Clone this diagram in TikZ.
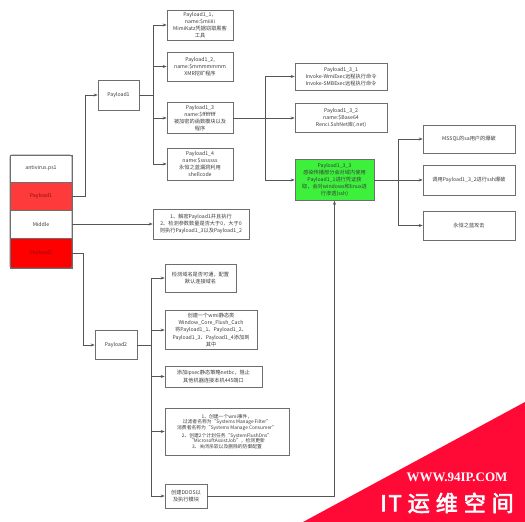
\documentclass[tikz,border=0pt]{standalone}
\usepackage{fontspec}
\setmainfont{Noto Sans CJK SC}
\newfontfamily\wmfont[FakeBold=3]{Noto Sans CJK SC}
\newfontfamily\wmserif{Liberation Serif}
\usetikzlibrary{arrows.meta, positioning}
\definecolor{linegray}{HTML}{555555}
\definecolor{boxgray}{HTML}{6E6E6E}
\definecolor{txtgray}{HTML}{3C3C3C}
\definecolor{lightred}{HTML}{FF3A3A}
\definecolor{brightred}{HTML}{FF0000}
\definecolor{darkred}{HTML}{8A1010}
\definecolor{infgreen}{HTML}{3CF03C}
\definecolor{wmred}{HTML}{FF0A37}

\begin{document}
\begin{tikzpicture}[x=1pt, y=-1pt,
    box/.style={draw=boxgray, fill=white, line width=0.6pt, align=center, inner sep=1pt, text=txtgray, font=\fontsize{5.2}{7.2}\selectfont},
    arr/.style={-{Stealth[length=4pt, width=3pt]}, draw=linegray, line width=0.6pt},
    lnk/.style={draw=linegray, line width=0.6pt}]
    \useasboundingbox (0,0) rectangle (525,522);

    % script and its parts
    \node[box, minimum width=62pt, minimum height=27pt, outer sep=0pt] (ps1) at (41,168.5) {antivirus.ps1};
    \node[box, fill=lightred, text=darkred, minimum width=62pt, minimum height=28pt, outer sep=0pt, below=0pt of ps1] (pl1row) {Payload1};
    \node[box, minimum width=62pt, minimum height=28pt, outer sep=0pt, below=0pt of pl1row] (midrow) {Middle};
    \node[box, fill=brightred, text=darkred, minimum width=62pt, minimum height=30pt, outer sep=0pt, below=0pt of midrow] (pl0row) {Payload2};
    \draw[boxgray, line width=0.8pt, rounded corners=2pt] (ps1.north west) rectangle (pl0row.south east);

    % Payload1 branch
    \node[box, minimum width=41pt, minimum height=30pt] (payload1) at (118.5,95) {Payload1};
    \node[box, minimum width=66pt, minimum height=30pt] (p11) at (200,25) {Payload1\_1，\\name:\$miiiii\\MimiKatz凭据窃取黑客\\工具};
    \node[box, minimum width=66pt, minimum height=29pt] (p12) at (200,66.5) {Payload1\_2,\\name:\$mmmmmmm\\XMR挖矿程序};
    \node[box, minimum width=66pt, minimum height=31pt] (p13) at (200,118) {Payload1\_3\\name:\$ffffffff\\被加密的函数模块以及\\程序};
    \node[box, minimum width=66pt, minimum height=32pt] (p14) at (200,164) {Payload1\_4\\name:\$sssssss\\永恒之蓝漏洞利用\\shellcode};

    \node[box, minimum width=92pt, minimum height=27pt] (p131) at (341,76.5) {Payload1\_3\_1\\Invoke-WmiExec远程执行命令\\Invoke-SMBExec远程执行命令};
    \node[box, minimum width=92pt, minimum height=29pt] (p132) at (341,118) {Payload1\_3\_2\\name:\$Base64\\Renci.SshNet库(.net)};
    \node[box, fill=infgreen, minimum width=79pt, minimum height=41pt] (p133) at (334.5,180) {Payload1\_3\_3\\感染传播部分会对域内使用\\Payload1\_1进行凭证获\\取，会对windows和linux进\\行渗透(ssh)};

    \node[box, minimum width=92pt, minimum height=28pt] (r1) at (469,139) {MSSQL的sa用户的爆破};
    \node[box, minimum width=92pt, minimum height=30pt] (r2) at (469,180) {调用Payload1\_3\_2进行ssh爆破};
    \node[box, minimum width=92pt, minimum height=29pt] (r3) at (469,225.5) {永恒之蓝攻击};

    % Middle
    \node[box, minimum width=96pt, minimum height=30pt] (midbox) at (201,224) {1、解密Payload1并且执行\\2、检测参数数量是否大于0，大于0\\则执行Payload1\_3以及Payload1\_2};

    % Payload2 branch
    \node[box, minimum width=42pt, minimum height=29pt] (payload2) at (116,345) {Payload2};
    \node[box, minimum width=71pt, minimum height=28pt] (q1) at (200.5,278) {检测域名是否可通，配置\\默认连接域名};
    \node[box, minimum width=92pt, minimum height=39pt] (q2) at (211,330) {创建一个wmi静态类\\Window\_Core\_Flush\_Cach\\将Payload1\_1、Payload1\_2、\\Payload1\_3、Payload1\_4添加到\\其中};
    \node[box, minimum width=97pt, minimum height=21pt] (q3) at (213.5,376.5) {添加ipsec静态策略netbc，阻止\\其他机器连接本机445端口};
    \node[box, minimum width=124pt, minimum height=47pt, font=\fontsize{4.8}{5.7}\selectfont] (q4) at (227,431.5) {1、创建一个wmi事件，\\过滤者名称为“Systems Manage Filter”\\消费者名称为“Systems Manage Consumer”\\[2pt]2、创建2个计划任务“SystemFlushDns”\\“MicrosoftAssistJob”，检测更新\\3、关闭杀软以及删除的防御配置};
    \node[box, minimum width=42pt, minimum height=24pt] (q5) at (186,496) {创建DDOS以\\及执行模块};

    % connectors
    \draw[arr] (pl1row.east) -- ++(13,0) |- (payload1.west);
    \draw[lnk] (payload1.east) -- ++(14,0) coordinate (bus1);
    \foreach \n in {p11,p12,p13,p14} \draw[arr] (bus1) |- (\n.west);
    \draw[lnk] (p13.east) -- ++(32,0) coordinate (bus13);
    \foreach \n in {p131,p132,p133} \draw[arr] (bus13) |- (\n.west);
    \draw[lnk] (p133.east) -- ++(24,0) coordinate (bus133);
    \foreach \n in {r1,r2,r3} \draw[arr] (bus133) |- (\n.west);
    \draw[arr] (midrow.east) -- (midbox.west);
    \draw[arr] (pl0row.east) -- ++(11,0) |- (payload2.west);
    \draw[lnk] (payload2.east) -- ++(14,0) coordinate (bus2);
    \foreach \n in {q1,q2,q3,q4,q5} \draw[arr] (bus2) |- (\n.west);
    \draw[arr] (q5.east) -| (p133.south);

    % watermark
    \fill[wmred] (303,522) -- (525,522) -- (525,402) -- cycle;
    \node[text=white, font=\wmserif\bfseries\fontsize{13}{13}\selectfont] (wmurl) at (457,477) {WWW.94IP.COM};
    \node[text=white, font=\wmfont\fontsize{22}{22}\selectfont] (wmname) at (447,503) {I\kern2pt T\kern6pt 运\kern6pt 维\kern6pt 空\kern6pt 间};
\end{tikzpicture}
\end{document}
